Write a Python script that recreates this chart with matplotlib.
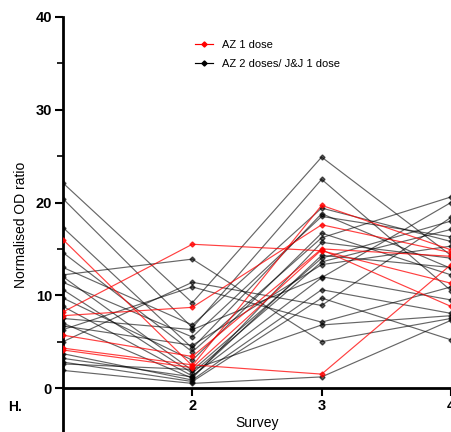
import matplotlib
matplotlib.use("Agg")
import matplotlib.pyplot as plt

plt.rcParams['font.family'] = ['Liberation Sans', 'DejaVu Sans']

surveys = [1, 2, 3, 4]

# AZ 1 dose (red)
az1 = [
    [16.0, 2.4, 19.7, 14.9],
    [8.2, 15.5, 14.8, 11.3],
    [7.8, 8.7, 17.6, 14.6],
    [5.7, 3.4, 15.0, 14.2],
    [4.3, 2.5, 1.5, 13.3],
    [4.1, 2.2, 14.9, 8.8],
]

# AZ 2 doses / J&J 1 dose (black)
az2 = [
    [22.1, 9.2, 24.9, 14.3],
    [20.4, 6.5, 22.5, 10.5],
    [17.3, 4.3, 18.8, 12.9],
    [14.6, 3.9, 16.2, 20.6],
    [13.0, 6.8, 19.4, 15.8],
    [12.2, 13.9, 5.0, 7.5],
    [12.0, 1.9, 14.0, 18.0],
    [11.4, 5.5, 18.5, 16.3],
    [10.6, 1.6, 13.6, 17.1],
    [9.7, 3.0, 16.7, 12.2],
    [8.8, 1.3, 11.9, 20.0],
    [7.5, 6.3, 12.0, 9.5],
    [7.0, 1.05, 15.7, 14.0],
    [6.7, 4.6, 13.3, 15.3],
    [6.3, 10.9, 7.1, 10.9],
    [5.0, 11.4, 8.9, 18.4],
    [3.7, 0.86, 10.6, 8.05],
    [3.2, 1.2, 14.3, 13.0],
    [2.8, 0.7, 9.7, 5.2],
    [2.6, 2.0, 6.8, 7.8],
    [1.9, 0.5, 1.2, 7.3],
]

xticks = [2, 3, 4]
yticks = [0, 10, 20, 30, 40]

fig = plt.figure(figsize=(4.52, 4.32), dpi=100)
ax = fig.add_axes([63/452, 0.0, 1 - 63/452, 415/432])

for i, s in enumerate(az2):
    ax.plot(surveys, s, color='black', alpha=0.6, lw=0.85, marker='D', ms=2.6,
            mec='black', mfc='black', label='AZ 2 doses/ J&J 1 dose' if i == 0 else None,
            zorder=2)
for i, s in enumerate(az1):
    ax.plot(surveys, s, color='#ff0000', alpha=0.75, lw=0.85, marker='D', ms=2.6,
            mec='#ff0000', mfc='#ff0000', label='AZ 1 dose' if i == 0 else None,
            zorder=3)

ax.set_xlim(1, 4.008)
ax.set_ylim(-4.74, 40)

ax.spines['top'].set_visible(False)
ax.spines['right'].set_visible(False)
ax.spines['bottom'].set_position(('data', 0))
ax.spines['left'].set_linewidth(2)
ax.spines['bottom'].set_linewidth(2)

ax.set_xticks(xticks)
ax.set_xticklabels([str(t) for t in xticks], fontweight='bold', fontsize=10.5)
ax.set_yticks(yticks)
ax.set_yticklabels([str(t) for t in yticks], fontweight='bold', fontsize=10.5)
ax.set_yticks([5, 15, 25, 35], minor=True)
ax.tick_params(axis='both', which='major', length=6, width=1.5, direction='out', pad=2)
ax.tick_params(axis='y', which='minor', length=4, width=1.2)

ax.set_ylabel('Normalised OD ratio', fontsize=10, labelpad=5)
fig.text(257/452, 1 - 423/432, 'Survey', ha='center', va='center', fontsize=10)
fig.text(15/452, 1 - 407/432, 'H.', ha='center', va='center', fontsize=10, fontweight='bold')

h, l = ax.get_legend_handles_labels()
order = [l.index('AZ 1 dose'), l.index('AZ 2 doses/ J&J 1 dose')]
leg = ax.legend([h[i] for i in order], [l[i] for i in order], frameon=False,
                fontsize=8, loc='upper left', bbox_to_anchor=(185/452, 1 - 30/432),
                bbox_transform=fig.transFigure, handlelength=1.6, labelspacing=0.8)
for lh in leg.legend_handles:
    lh.set_alpha(1.0)

fig.savefig('out.png', dpi=100)
